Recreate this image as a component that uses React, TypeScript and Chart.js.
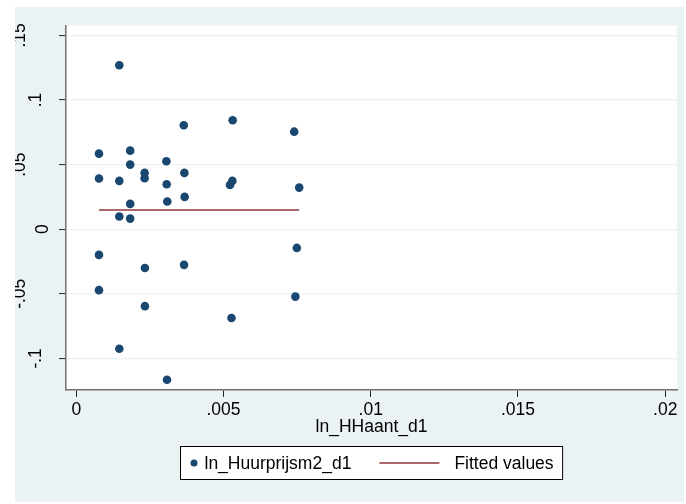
import React, { useEffect, useRef } from "react";
import { Chart, registerables } from "chart.js";

Chart.register(...registerables);

// ---- data ----
const seriesLabel = "ln_Huurprijsm2_d1";
const fitLabel = "Fitted values";
const xTitle = "ln_HHaant_d1";

const pointX = [
  0.00077, 0.00077, 0.00077, 0.00077,
  0.00146, 0.00146, 0.00146, 0.00146,
  0.00183, 0.00183, 0.00183, 0.00183,
  0.00232, 0.00232, 0.00233, 0.00233,
  0.00306, 0.00307, 0.00309, 0.00308,
  0.00365, 0.00367, 0.00368, 0.00366,
  0.00531, 0.0053, 0.00522, 0.00527,
  0.0074, 0.00757, 0.00749, 0.00744,
];
const pointY = [
  0.0585, 0.0392, -0.0199, -0.0472,
  0.1269, 0.0374, 0.0098, -0.0926,
  0.0608, 0.05, 0.0196, 0.0082,
  0.0436, 0.0395, -0.03, -0.0596,
  0.0526, 0.0348, 0.0214, -0.1166,
  0.0805, 0.0436, 0.025, -0.0276,
  0.0844, 0.0374, 0.0343, -0.0687,
  0.0755, 0.0322, -0.0145, -0.0522,
];
const fitX = [0.00077, 0.00757];
const fitY = [0.0149, 0.0149];

const xTickValues = [0, 0.005, 0.01, 0.015, 0.02];
const xTickLabels = ["0", ".005", ".01", ".015", ".02"];
const yTickValues = [-0.1, -0.05, 0, 0.05, 0.1, 0.15];
const yTickLabels = ["-.1", "-.05", "0", ".05", ".1", ".15"];
const xRange = [-0.00035, 0.0204];
const yRange = [-0.1245, 0.1577];

// ---- style ----
const FONT_FAMILY = '"Liberation Sans", Arial, Helvetica, sans-serif';
const FONT_SIZE = 17.5;
const FONT = `${FONT_SIZE}px ${FONT_FAMILY}`;
const DOT_COLOR = "#1A476F";
const FIT_COLOR = "#90353B";
const BG_COLOR = "#EAF2F3";

const plotBg = {
  id: "plotBg",
  beforeDraw(chart: any) {
    const { ctx, chartArea } = chart;
    ctx.save();
    ctx.fillStyle = "#ffffff";
    ctx.fillRect(chartArea.left, chartArea.top, chartArea.right - chartArea.left, chartArea.bottom - chartArea.top);
    ctx.restore();
  },
};

const yLabels = {
  id: "yLabels",
  afterDraw(chart: any) {
    const { ctx } = chart;
    const s = chart.scales.y;
    ctx.save();
    ctx.font = FONT;
    ctx.fillStyle = "#000";
    ctx.textAlign = "center";
    ctx.textBaseline = "middle";
    yTickValues.forEach((v, i) => {
      const label = yTickLabels[i];
      const py = s.getPixelForValue(v);
      const w = ctx.measureText(label.replace("-", "")).width;
      const cx = s.right - 7 - 1.58 * w;
      ctx.save();
      ctx.translate(cx, py);
      ctx.rotate(-Math.PI / 2);
      ctx.fillText(label, 0, 0);
      ctx.restore();
    });
    ctx.restore();
  },
};

const legendBox = {
  id: "legendBox",
  afterDraw(chart: any) {
    const { ctx, chartArea } = chart;
    ctx.save();
    ctx.font = FONT;
    const t1 = ctx.measureText(seriesLabel).width;
    const t2 = ctx.measureText(fitLabel).width;
    const padL = 10, dotW = 7, gap1 = 7, gapMid = 28, lineW = 60, gap2 = 15, padR = 9;
    const total = padL + dotW + gap1 + t1 + gapMid + lineW + gap2 + t2 + padR;
    const cx = (chartArea.left + chartArea.right) / 2;
    const left = Math.round(cx - total / 2) + 0.5;
    const top = Math.round(chartArea.bottom + 56) + 0.5;
    const h = 33;
    ctx.fillStyle = "#fff";
    ctx.fillRect(left, top, total, h);
    ctx.strokeStyle = "#000";
    ctx.lineWidth = 1;
    ctx.strokeRect(left, top, total, h);
    const cy = top + h / 2;
    let x = left + padL;
    ctx.fillStyle = DOT_COLOR;
    ctx.beginPath();
    ctx.arc(x + dotW / 2, cy, 3.5, 0, Math.PI * 2);
    ctx.fill();
    x += dotW + gap1;
    ctx.fillStyle = "#000";
    ctx.textAlign = "left";
    ctx.textBaseline = "middle";
    ctx.fillText(seriesLabel, x, cy + 1);
    x += t1 + gapMid;
    ctx.strokeStyle = FIT_COLOR;
    ctx.lineWidth = 1.5;
    ctx.beginPath();
    ctx.moveTo(x, cy);
    ctx.lineTo(x + lineW, cy);
    ctx.stroke();
    x += lineW + gap2;
    ctx.fillText(fitLabel, x, cy + 1);
    ctx.restore();
  },
};

export default function App() {
  const ref = useRef<HTMLCanvasElement | null>(null);
  useEffect(() => {
    if (!ref.current) return;
    const chart = new Chart(ref.current, {
      type: "scatter",
      data: {
        datasets: [
          {
            label: seriesLabel,
            data: pointX.map((x, i) => ({ x, y: pointY[i] })),
            backgroundColor: DOT_COLOR,
            borderColor: DOT_COLOR,
            borderWidth: 0,
            pointRadius: 4.3,
            order: 1,
          },
          {
            type: "line",
            label: fitLabel,
            data: fitX.map((x, i) => ({ x, y: fitY[i] })),
            borderColor: FIT_COLOR,
            borderWidth: 1.6,
            pointRadius: 0,
            fill: false,
            order: 2,
          } as any,
        ],
      },
      options: {
        animation: false,
        responsive: false,
        devicePixelRatio: 1,
        layout: { padding: { top: 18.5, right: 7, left: 0, bottom: 64 } },
        plugins: {
          legend: { display: false },
          tooltip: { enabled: false },
        },
        scales: {
          x: {
            type: "linear",
            min: xRange[0],
            max: xRange[1],
            afterBuildTicks: (s: any) => {
              s.ticks = xTickValues.map((v) => ({ value: v }));
            },
            afterFit: (s: any) => {
              s.height = 48;
            },
            ticks: {
              autoSkip: false,
              maxRotation: 0,
              minRotation: 0,
              padding: 3,
              color: "#000",
              font: { family: FONT_FAMILY, size: FONT_SIZE },
              callback: (_v: any, i: number) => xTickLabels[i],
            },
            grid: {
              drawOnChartArea: false,
              drawTicks: true,
              tickLength: 7,
              tickColor: "#222",
              tickWidth: 1,
            },
            border: { display: true, color: "#707070", width: 1.5 },
            title: {
              display: true,
              text: xTitle,
              color: "#000",
              font: { family: FONT_FAMILY, size: FONT_SIZE },
              padding: { top: 0, bottom: 0 },
            },
          },
          y: {
            type: "linear",
            min: yRange[0],
            max: yRange[1],
            afterBuildTicks: (s: any) => {
              s.ticks = yTickValues.map((v) => ({ value: v }));
            },
            afterFit: (s: any) => {
              s.width = 51;
            },
            ticks: {
              display: false,
              autoSkip: false,
              callback: (_v: any, i: number) => yTickLabels[i],
            },
            grid: {
              color: BG_COLOR,
              lineWidth: 1.2,
              drawTicks: true,
              tickLength: 7,
              tickColor: "#222",
              tickWidth: 1,
            },
            border: { display: true, color: "#707070", width: 1.5 },
          },
        },
      },
      plugins: [plotBg, yLabels, legendBox],
    });
    return () => chart.destroy();
  }, []);

  return (
    <div
      style={{
        position: "absolute",
        left: 15,
        top: 7,
        width: 669,
        height: 495,
        background: BG_COLOR,
      }}
    >
      <canvas ref={ref} width={669} height={495} style={{ width: 669, height: 495, display: "block" }} />
    </div>
  );
}
